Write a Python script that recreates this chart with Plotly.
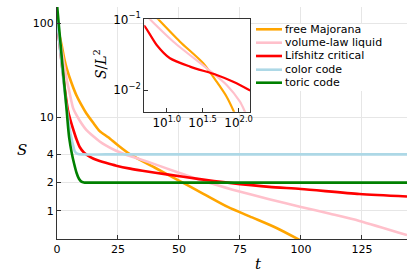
import plotly.graph_objects as go

# ---------------- main panel data (S vs t) ----------------
t_majorana = [0, 1, 2, 3, 4, 6, 8, 10, 12, 15, 17.5, 21, 25, 30, 40, 50, 60, 70, 80, 90, 100]
S_majorana = [100, 75, 57, 42, 33, 23, 17, 13.5, 11, 8.6, 7.1, 6.1, 5.0, 4.0, 2.9, 2.1, 1.52, 1.1, 0.85, 0.656, 0.48]

t_volume = [0, 1, 2, 3, 4, 5, 6.6, 8, 10, 12, 15, 17.5, 20, 24, 28, 34, 40, 50, 62, 72, 87, 100, 112, 124, 143.5]
S_volume = [100, 72, 50, 35, 25, 19, 12.5, 10.5, 8.6, 7.3, 6.2, 5.5, 5.0, 4.4, 4.0, 3.55, 3.15, 2.55, 2.0, 1.68, 1.33, 1.1, 0.93, 0.78, 0.55]

t_lifshitz = [0, 1, 2, 3, 4.5, 5.5, 6.8, 8, 9.3, 11, 12.7, 15, 17.5, 20, 24.3, 30, 35, 45, 58.5, 70, 87, 100, 124, 143.5]
S_lifshitz = [100, 62, 36, 22, 11.8, 9.3, 7.2, 5.8, 4.8, 4.2, 3.87, 3.6, 3.4, 3.25, 3.03, 2.82, 2.68, 2.45, 2.18, 2.0, 1.8, 1.71, 1.51, 1.42]

t_color = [0, 1, 2, 3, 4, 5, 6, 6.6, 7.3, 8, 9, 10, 20, 40, 70, 100, 143.5]
S_color = [110, 62, 35, 20, 12.5, 8.0, 5.8, 5.0, 4.3, 4.1, 4.02, 4.0, 4.0, 4.0, 4.0, 4.0, 4.0]

t_toric = [0, 1, 2, 3, 4, 4.5, 5, 6, 7, 8, 9, 10, 11, 12, 20, 40, 70, 100, 143.5]
S_toric = [160, 82, 42, 22, 11.5, 8.0, 6.0, 4.2, 3.2, 2.55, 2.2, 2.05, 2.01, 2.0, 2.0, 2.0, 2.0, 2.0, 2.0]

# ---------------- inset data (S/L^2 vs t, log-log) ----------------
ti_majorana = [6.31, 7.64, 15.3, 32.2, 49.5, 68.1, 86.1, 95.5]
Si_majorana = [0.123, 0.1, 0.0482, 0.0239, 0.0131, 0.00804, 0.00493, 0.0038]

ti_volume = [5.0, 5.86, 12.4, 36.0, 68.1, 104.3, 122.4, 144.5]
Si_volume = [0.117, 0.1, 0.0482, 0.0203, 0.01178, 0.00683, 0.00493, 0.0034]

ti_lifshitz = [4.8, 5.0, 7.26, 11.1, 21.1, 49.5, 84.1, 140.3, 145]
Si_lifshitz = [0.081, 0.0786, 0.0433, 0.0281, 0.0214, 0.0163, 0.0131, 0.0100, 0.0098]

names = ["free Majorana", "volume-law liquid", "Lifshitz critical", "color code", "toric code"]
colors = ["#FFA500", "#FFC0CB", "#FF0000", "#ADD8E6", "#008000"]

main_t = [t_majorana, t_volume, t_lifshitz, t_color, t_toric]
main_S = [S_majorana, S_volume, S_lifshitz, S_color, S_toric]
inset_t = [ti_majorana, ti_volume, ti_lifshitz]
inset_S = [Si_majorana, Si_volume, Si_lifshitz]

y_ticks = [1, 2, 4, 10, 100]
x_ticks = [0, 25, 50, 75, 100, 125]
inset_x_ticks = [10, 31.6228, 100]
inset_x_text = ["10<sup>1.0</sup>", "10<sup>1.5</sup>", "10<sup>2.0</sup>"]
inset_y_ticks = [0.1, 0.01]
inset_y_text = ["10<sup>\u22121</sup>", "10<sup>\u22122</sup>"]

fig = go.Figure()
for t, S, n, c in zip(main_t, main_S, names, colors):
    fig.add_trace(go.Scatter(x=t, y=S, mode="lines", name=n,
                             line=dict(color=c, width=2.6, shape="spline", smoothing=0.7),
                             showlegend=False, xaxis="x", yaxis="y"))
for t, S, c in zip(inset_t, inset_S, colors[:3]):
    fig.add_trace(go.Scatter(x=t, y=S, mode="lines",
                             line=dict(color=c, width=2.2, shape="spline", smoothing=0.7),
                             showlegend=False, xaxis="x2", yaxis="y2"))

tickfont = dict(family="DejaVu Sans", size=11, color="#000")
inset_tickfont = dict(family="DejaVu Sans", size=12, color="#000")
axcol = "#333333"
grid = "#e6e6e6"

W, H = 415, 277
ML, MR, MT, MB = 57, 8, 7, 38
PW, PH = W - ML - MR, H - MT - MB


def px(x):
    return (x - ML) / PW


def py(y):
    return (H - MB - y) / PH


fig.update_layout(
    width=W, height=H,
    margin=dict(l=ML, r=MR, t=MT, b=MB, pad=0, autoexpand=False),
    paper_bgcolor="white", plot_bgcolor="white",
    xaxis=dict(domain=[0, 1], range=[0, 143.5], tickvals=x_ticks, automargin=False,
               showgrid=True, gridcolor=grid, gridwidth=1, zeroline=False,
               showline=True, linecolor=axcol, linewidth=1.2,
               ticks="inside", ticklen=4, tickcolor=axcol, tickfont=tickfont),
    yaxis=dict(domain=[0, 1], type="log", range=[-0.301, 2.176], tickvals=y_ticks,
               ticktext=[str(v) for v in y_ticks], automargin=False,
               showgrid=True, gridcolor=grid, gridwidth=1, zeroline=False,
               showline=True, linecolor=axcol, linewidth=1.2,
               ticks="inside", ticklen=4, tickcolor=axcol, tickfont=tickfont),
    xaxis2=dict(domain=[px(144.3), px(250)], anchor="y2", type="log", automargin=False,
                range=[0.689, 2.158], tickvals=inset_x_ticks, ticktext=inset_x_text,
                showgrid=False, zeroline=False, showline=True, mirror=True,
                linecolor=axcol, linewidth=1.2, ticks="inside", ticklen=4,
                tickcolor=axcol, tickfont=inset_tickfont),
    yaxis2=dict(domain=[py(111.7), py(19.3)], anchor="x2", type="log", automargin=False,
                range=[-2.307, -1.0], tickvals=inset_y_ticks, ticktext=inset_y_text,
                showgrid=False, zeroline=False, showline=True, mirror=True,
                linecolor=axcol, linewidth=1.2, ticks="inside", ticklen=4,
                tickcolor=axcol, tickfont=inset_tickfont),
)

shapes = [
    # inset background
    dict(type="rect", xref="x2 domain", yref="y2 domain", x0=0, x1=1, y0=0, y1=1,
         fillcolor="white", line=dict(width=0), layer="below"),
    # legend background
    dict(type="rect", xref="paper", yref="paper", x0=px(253), x1=px(414), y0=py(91), y1=py(24),
         fillcolor="white", line=dict(width=0), layer="above"),
]
annotations = []
rows = [29.3, 42.7, 56.0, 69.7, 82.7]
for yc, n, c in zip(rows, names, colors):
    shapes.append(dict(type="line", xref="paper", yref="paper", x0=px(256), x1=px(282),
                       y0=py(yc), y1=py(yc), line=dict(color=c, width=2.6), layer="above"))
    annotations.append(dict(xref="paper", yref="paper", x=px(283.5), y=py(yc), text=n,
                            xanchor="left", yanchor="middle", showarrow=False,
                            borderpad=0,
                            font=dict(family="DejaVu Sans", size=11, color="#000")))

serif = dict(family="DejaVu Serif", size=15, color="#000")
annotations += [
    dict(xref="paper", yref="paper", x=px(22), y=py(150), text="<i>S</i>", showarrow=False,
         xanchor="center", yanchor="middle", font=serif),
    dict(xref="paper", yref="paper", x=px(258), y=py(264), text="<i>t</i>", showarrow=False,
         xanchor="center", yanchor="middle", font=serif),
    dict(xref="paper", yref="paper", x=px(100), y=py(64), text="<i>S</i>/<i>L</i><sup>2</sup>",
         showarrow=False, textangle=-90, xanchor="center", yanchor="middle",
         font=dict(family="DejaVu Serif", size=14, color="#000")),
]
fig.update_layout(shapes=shapes, annotations=annotations)

fig.write_html("out.html", config={"displayModeBar": False},
               post_script="document.body.style.margin='0';")
